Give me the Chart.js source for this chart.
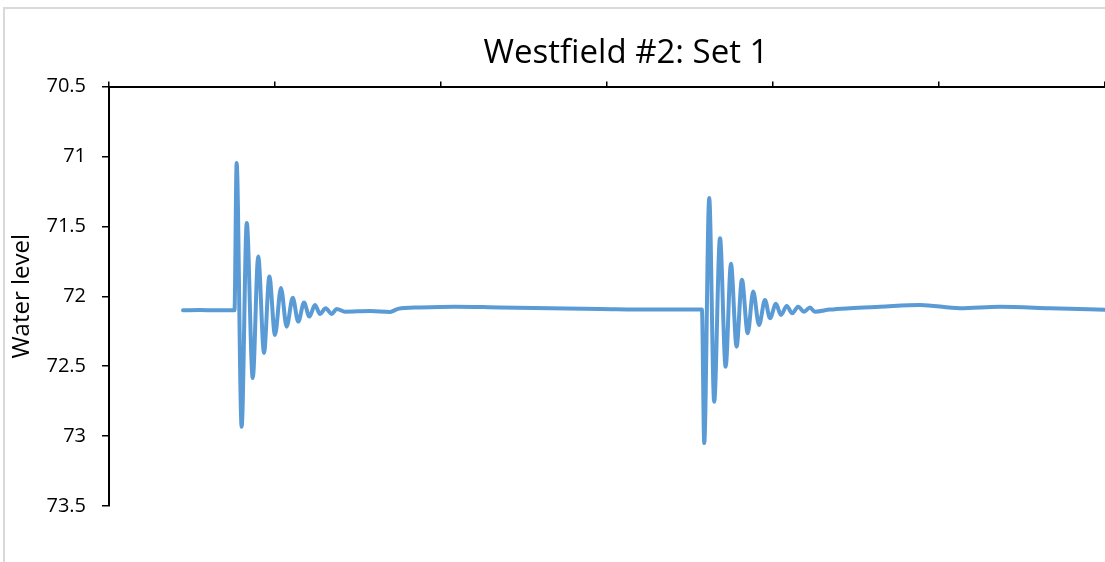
<!DOCTYPE html>
<html>
<head>
<meta charset="utf-8">
<script src="https://cdn.jsdelivr.net/npm/chart.js@4.4.0/dist/chart.umd.min.js"></script>
<style>
  html, body { margin: 0; padding: 0; background: #ffffff; overflow: hidden; width: 1105px; height: 562px; }
  #frame { position: absolute; left: 3px; top: 7px; width: 1400px; height: 700px; border: 2px solid #d9d9d9; box-sizing: border-box; }
  #wrap { position: absolute; left: 0; top: 0; width: 1252px; height: 562px; }
</style>
</head>
<body>
<div id="frame"></div>
<div id="wrap"><canvas id="c"></canvas></div>
<script>
const chartTitle = "Westfield #2: Set 1";
const yAxisTitle = "Water level";
const yTickValues = [70.5, 71, 71.5, 72, 72.5, 73, 73.5];
const timeValues = [44.6, 54.8, 63.9, 75.6, 76.9, 79.9, 83.0, 86.6, 89.9, 93.4, 96.6, 100.0, 103.6, 107.0, 110.7, 114.0, 117.5, 120.7, 124.1, 127.1, 130.5, 134.2, 137.2, 142.2, 157.2, 169.3, 174.1, 187.3, 208.4, 235.5, 265.7, 295.8, 325.9, 357.2, 358.6, 361.6, 364.6, 368.1, 371.5, 374.7, 378.1, 381.3, 384.8, 388.1, 391.6, 395.2, 398.2, 401.8, 404.8, 408.3, 411.6, 415.2, 418.7, 422.3, 425.3, 434.3, 446.4, 464.5, 488.6, 512.7, 536.7, 566.9, 600];
const waterLevel = [72.10, 72.098, 72.10, 72.10, 71.047, 72.933, 71.476, 72.585, 71.716, 72.405, 71.859, 72.276, 71.94, 72.217, 72.011, 72.181, 72.045, 72.145, 72.062, 72.126, 72.085, 72.126, 72.09, 72.11, 72.105, 72.112, 72.09, 72.08, 72.074, 72.08, 72.085, 72.09, 72.095, 72.095, 73.05, 71.297, 72.754, 71.584, 72.504, 71.768, 72.36, 71.882, 72.264, 71.966, 72.205, 72.026, 72.157, 72.054, 72.133, 72.069, 72.121, 72.074, 72.11, 72.081, 72.11, 72.095, 72.085, 72.075, 72.062, 72.085, 72.075, 72.085, 72.097];

const points = timeValues.map((t, i) => ({ x: t, y: waterLevel[i] }));
const FONT = "'Open Sans', 'Liberation Sans', sans-serif";

new Chart(document.getElementById('c'), {
  type: 'line',
  data: {
    datasets: [{
      data: points,
      borderColor: '#5b9bd5',
      borderWidth: 4,
      pointRadius: 0,
      fill: false,
      cubicInterpolationMode: 'monotone',
      borderCapStyle: 'round',
      borderJoinStyle: 'round'
    }]
  },
  options: {
    responsive: true,
    maintainAspectRatio: false,
    animation: false,
    layout: { padding: { top: 0, left: 0, right: 0, bottom: 56 } },
    plugins: {
      legend: { display: false },
      tooltip: { enabled: false },
      title: {
        display: true,
        text: chartTitle,
        color: '#000000',
        font: { family: FONT, size: 33, weight: 'normal', lineHeight: 1.2 },
        padding: { top: 34, bottom: 8 }
      }
    },
    scales: {
      x: {
        type: 'linear',
        position: 'top',
        min: 0,
        max: 688.6,
        grid: { drawOnChartArea: false, drawTicks: true, tickLength: 5, color: '#000000', lineWidth: 1.5 },
        border: { color: '#000000', width: 2 },
        ticks: { display: false, stepSize: 100, includeBounds: false }
      },
      y: {
        type: 'linear',
        reverse: true,
        min: 70.5,
        max: 73.5,
        afterFit: (s) => { s.width = 109; },
        afterBuildTicks: (s) => { s.ticks = yTickValues.map(v => ({ value: v })); },
        grid: { drawOnChartArea: false, drawTicks: true, tickLength: 7, color: '#000000', lineWidth: 1.5 },
        border: { color: '#000000', width: 2 },
        ticks: { color: '#000000', padding: 16, font: { family: FONT, size: 20 }, callback: (v) => String(v) },
        title: {
          display: true,
          text: yAxisTitle,
          color: '#000000',
          font: { family: FONT, size: 24, lineHeight: 1.2 },
          padding: { top: 8, bottom: 0 }
        }
      }
    }
  }
});
</script>
</body>
</html>
